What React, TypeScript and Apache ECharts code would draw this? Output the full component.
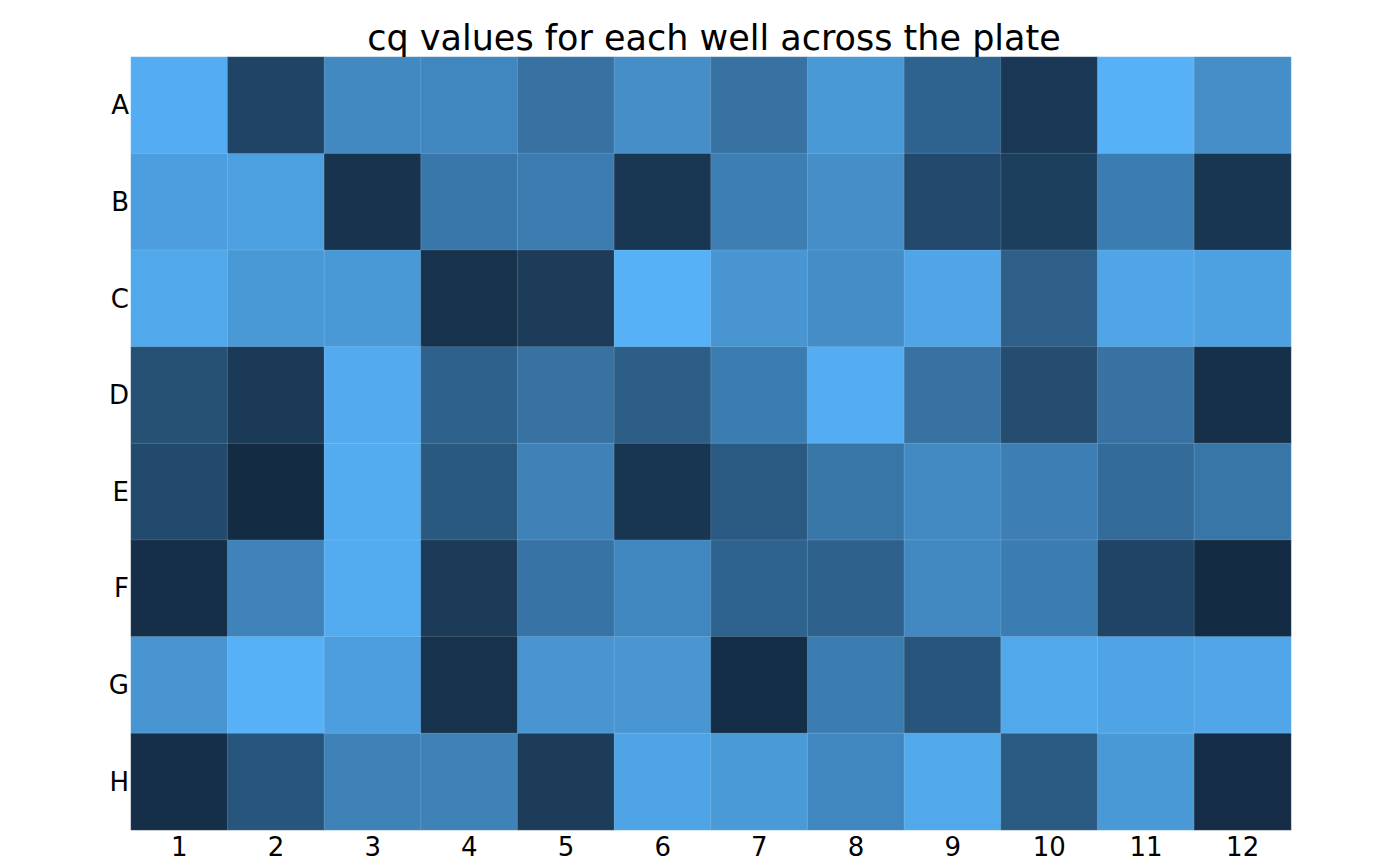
import React, { useEffect, useRef } from "react";
import * as echarts from "echarts";

const columns = ["1", "2", "3", "4", "5", "6", "7", "8", "9", "10", "11", "12"];
const rows = ["A", "B", "C", "D", "E", "F", "G", "H"];

// cq values per well (row A..H, columns 1..12)
const rowA = [29.7, 21.9, 27.0, 26.9, 25.3, 27.4, 25.3, 28.2, 24.2, 21.0, 30.0, 27.4];
const rowB = [28.6, 28.8, 20.6, 25.7, 26.0, 20.9, 26.2, 27.4, 22.2, 21.5, 26.1, 20.8];
const rowC = [29.3, 28.2, 28.2, 20.5, 21.3, 30.0, 27.9, 27.3, 29.1, 23.9, 29.1, 28.8];
const rowD = [22.8, 21.1, 29.5, 24.0, 25.3, 23.8, 26.1, 29.7, 25.3, 22.5, 25.3, 20.4];
const rowE = [22.3, 20.0, 29.6, 23.4, 26.5, 20.8, 23.5, 25.6, 27.1, 26.3, 24.8, 25.6];
const rowF = [20.3, 26.6, 29.6, 21.2, 25.4, 26.9, 24.2, 24.1, 27.0, 26.1, 21.9, 20.0];
const rowG = [27.9, 30.0, 28.6, 20.5, 27.9, 28.0, 20.2, 26.1, 23.1, 29.3, 29.0, 29.2];
const rowH = [20.3, 23.1, 26.5, 26.5, 21.3, 29.0, 28.3, 26.9, 29.3, 23.5, 28.2, 20.1];

const plate = [rowA, rowB, rowC, rowD, rowE, rowF, rowG, rowH];
const cqMin = 20;
const cqMax = 30;

export default function App() {
  const ref = useRef<HTMLDivElement>(null);

  useEffect(() => {
    if (!ref.current) return;
    const chart = echarts.init(ref.current, null, { renderer: "svg" });
    const data: [number, number, number][] = [];
    plate.forEach((vals, r) => {
      vals.forEach((v, c) => {
        data.push([c, r, v]);
      });
    });
    const font = "DejaVu Sans";
    chart.setOption({
      animation: false,
      backgroundColor: "#ffffff",
      title: {
        text: "cq values for each well across the plate",
        left: 709,
        textAlign: "center",
        top: 15,
        textStyle: {
          fontFamily: font,
          fontSize: 35,
          fontWeight: "normal",
          color: "#000000",
        },
      },
      grid: { left: 131, right: 109, top: 57, bottom: 36 },
      xAxis: {
        type: "category",
        data: columns,
        position: "bottom",
        axisLine: { show: false },
        axisTick: { show: false },
        splitLine: { show: false },
        axisLabel: {
          fontFamily: font,
          fontSize: 26,
          color: "#000000",
          margin: 4,
        },
      },
      yAxis: {
        type: "category",
        data: rows,
        inverse: true,
        axisLine: { show: false },
        axisTick: { show: false },
        splitLine: { show: false },
        axisLabel: {
          fontFamily: font,
          fontSize: 26,
          color: "#000000",
          margin: 2,
          padding: [6, 0, 0, 0],
        },
      },
      visualMap: {
        show: false,
        min: cqMin,
        max: cqMax,
        dimension: 2,
        inRange: { color: ["#132B43", "#56B1F7"] },
      },
      series: [
        {
          type: "heatmap",
          data,
          itemStyle: {
            borderColor: "rgba(255,255,255,0.22)",
            borderWidth: 0.6,
          },
          emphasis: { disabled: true },
        },
      ],
    });
    return () => chart.dispose();
  }, []);

  return (
    <div
      ref={ref}
      style={{ position: "fixed", left: 0, top: 0, width: 1400, height: 866 }}
    />
  );
}
